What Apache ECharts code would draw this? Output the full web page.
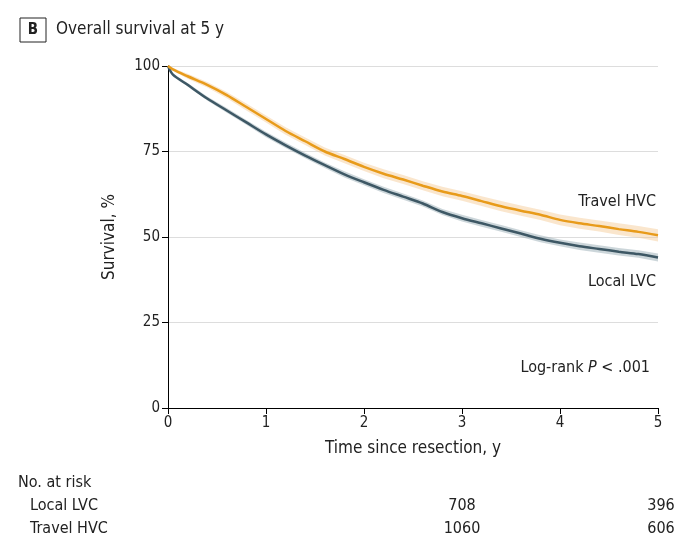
<!DOCTYPE html>
<html><head><meta charset="utf-8">
<script src="https://cdn.jsdelivr.net/npm/echarts@6/dist/echarts.min.js"></script>
<style>body{margin:0;background:#fff}#c{width:680px;height:546px}</style>
</head><body><div id="c"></div>
<script>
const times = [0,0.05,0.2,0.4,0.6,0.8,1.0,1.2,1.4,1.6,1.8,2.0,2.2,2.4,2.6,2.8,3.0,3.2,3.4,3.6,3.8,4.0,4.2,4.4,4.6,4.8,5.0];
const localLVC = [100,97.5,94.5,90.5,87,83.5,80,76.8,73.8,71,68.3,66,63.8,61.8,59.8,57.3,55.5,54,52.5,51,49.5,48.3,47.3,46.5,45.7,45,44];
const travelHVC = [100,99,97,94.5,91.5,88,84.5,81,78,75,72.8,70.5,68.5,66.8,65,63.3,62,60.5,59,57.7,56.5,55,54,53.2,52.3,51.5,50.5];
const localHalfCI = [0,0.3,0.5,0.6,0.7,0.7,0.8,0.8,0.8,0.8,0.9,0.9,0.9,0.9,0.9,0.9,1.0,1.0,1.0,1.0,1.0,1.0,1.1,1.1,1.1,1.1,1.2];
const travelHalfCI = [0,0.4,0.7,0.8,0.9,1.0,1.0,1.1,1.1,1.2,1.2,1.2,1.3,1.3,1.3,1.4,1.4,1.4,1.5,1.5,1.5,1.6,1.6,1.6,1.7,1.7,1.8];
const riskTimes = [3,5];
const riskLocal = [708,396];
const riskTravel = [1060,606];

const F = "'Liberation Sans Narrow','DejaVu Sans Condensed',sans-serif";
const ORANGE = '#E89B1A', SLATE = '#3E5865';
const pts = (ys) => times.map((t,i)=>[t,ys[i]]);
function band(ys, hw, color){
  return {type:'custom',silent:true,z:1,
    data:[0],
    renderItem:(params,api)=>{
      const up = times.map((t,i)=>api.coord([t,ys[i]+hw[i]]));
      const lo = times.map((t,i)=>api.coord([t,ys[i]-hw[i]])).reverse();
      return {type:'polygon',shape:{points:up.concat(lo)},style:{fill:color,opacity:0.45}};
    }};
}
const chart = echarts.init(document.getElementById('c'));
chart.setOption({
  animation:false,
  grid:{left:168,right:22,top:66,bottom:138},
  xAxis:{type:'value',min:0,max:5,interval:1,
    axisLine:{lineStyle:{color:'#000',width:1}},axisTick:{length:6,lineStyle:{color:'#000'}},
    axisLabel:{color:'#222',fontFamily:F,fontSize:15,margin:8},splitLine:{show:false},
    name:'Time since resection, y',nameLocation:'middle',nameGap:32,nameTextStyle:{fontFamily:F,fontSize:17,color:'#222'}},
  yAxis:{type:'value',min:0,max:100,interval:25,
    axisLine:{show:true,lineStyle:{color:'#000',width:1}},axisTick:{show:true,length:6,lineStyle:{color:'#000'}},
    axisLabel:{color:'#222',fontFamily:F,fontSize:15,margin:8},splitLine:{lineStyle:{color:'#ddd'}},
    name:'Survival, %',nameLocation:'middle',nameGap:50,nameTextStyle:{fontFamily:F,fontSize:17,color:'#222'}},
  series:[
    band(localLVC,localHalfCI,'#8fa4ad'),
    band(travelHVC,travelHalfCI,'#f5c890'),
    {type:'line',z:3,data:pts(localLVC),symbol:'none',smooth:0.3,lineStyle:{color:SLATE,width:2.5}},
    {type:'line',z:3,data:pts(travelHVC),symbol:'none',smooth:0.3,lineStyle:{color:ORANGE,width:2.5}}
  ]
});
const g = [
  {type:'rect',shape:{x:20,y:18,width:26,height:24},style:{fill:'#fff',stroke:'#222',lineWidth:1}},
  {type:'text',x:33,y:30,style:{text:'B',font:'bold 15px '+F,fill:'#222',align:'center',verticalAlign:'middle'}},
  {type:'text',x:56,y:30,style:{text:'Overall survival at 5 y',font:'17px '+F,fill:'#222',verticalAlign:'middle'}},
  {type:'text',x:656,y:202,style:{text:'Travel HVC',font:'16px '+F,fill:'#222',align:'right',verticalAlign:'middle'}},
  {type:'text',x:656,y:282,style:{text:'Local LVC',font:'16px '+F,fill:'#222',align:'right',verticalAlign:'middle'}},
  {type:'text',x:650,y:368,style:{text:'{n|Log-rank }{i|P}{n| < .001}',rich:{n:{font:'16px '+F,fill:'#222'},i:{font:'italic 16px '+F,fill:'#222'}},align:'right',verticalAlign:'middle'}},
  {type:'text',x:18,y:483,style:{text:'No. at risk',font:'16px '+F,fill:'#222',verticalAlign:'middle'}},
  {type:'text',x:30,y:506,style:{text:'Local LVC',font:'16px '+F,fill:'#222',verticalAlign:'middle'}},
  {type:'text',x:30,y:529,style:{text:'Travel HVC',font:'16px '+F,fill:'#222',verticalAlign:'middle'}}
];
riskTimes.forEach((t,i)=>{
  let px = chart.convertToPixel({gridIndex:0},[t,0])[0];
  if (t===5) px += 3;
  g.push({type:'text',x:px,y:506,style:{text:String(riskLocal[i]),font:'16px '+F,fill:'#222',align:'center',verticalAlign:'middle'}});
  g.push({type:'text',x:px,y:529,style:{text:String(riskTravel[i]),font:'16px '+F,fill:'#222',align:'center',verticalAlign:'middle'}});
});
chart.setOption({graphic:g});
</script></body></html>
